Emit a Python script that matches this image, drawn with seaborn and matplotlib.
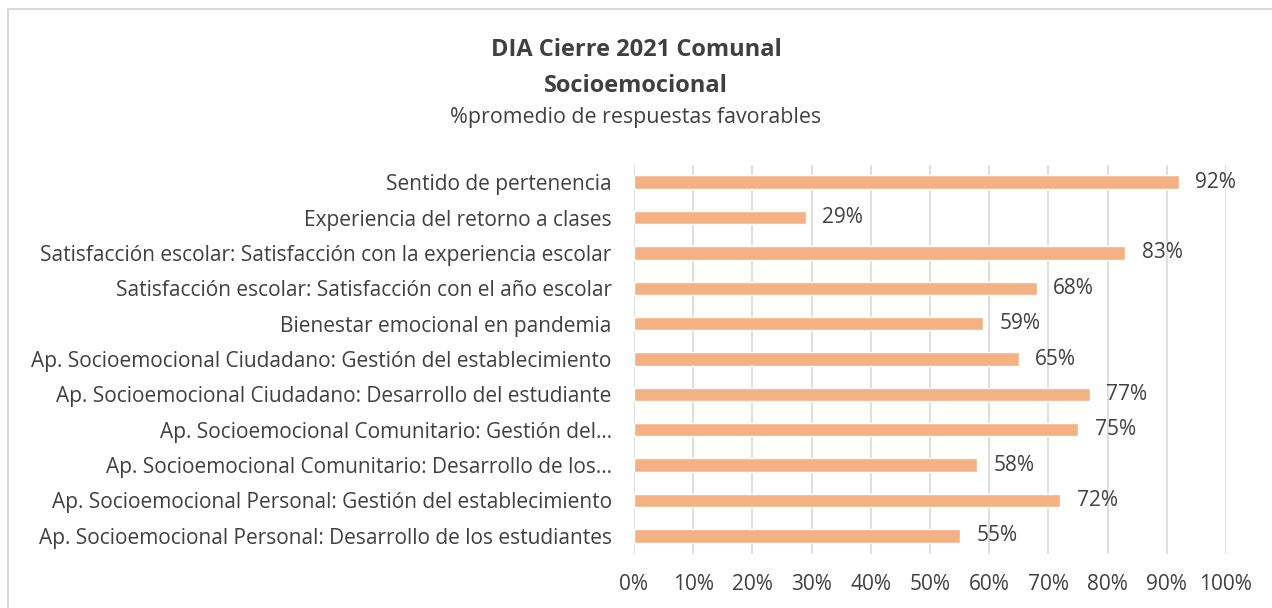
import matplotlib
matplotlib.use("Agg")
import matplotlib.pyplot as plt
import seaborn as sns
import pandas as pd
from matplotlib.patches import Rectangle

# datos
categorias = [
    "Sentido de pertenencia",
    "Experiencia del retorno a clases",
    "Satisfacción escolar: Satisfacción con la experiencia escolar",
    "Satisfacción escolar: Satisfacción con el año escolar",
    "Bienestar emocional en pandemia",
    "Ap. Socioemocional Ciudadano: Gestión del establecimiento",
    "Ap. Socioemocional Ciudadano: Desarrollo del estudiante",
    "Ap. Socioemocional Comunitario: Gestión del…",
    "Ap. Socioemocional Comunitario: Desarrollo de los…",
    "Ap. Socioemocional Personal: Gestión del establecimiento",
    "Ap. Socioemocional Personal: Desarrollo de los estudiantes",
]
valores = [92, 29, 83, 68, 59, 65, 77, 75, 58, 72, 55]
ticks = [0, 10, 20, 30, 40, 50, 60, 70, 80, 90, 100]

df = pd.DataFrame({"cat": categorias, "val": valores})

sns.set_style("white")
plt.rcParams["font.family"] = ["Open Sans", "DejaVu Sans"]
TXT = "#404040"
FS = 15

fig = plt.figure(figsize=(12.72, 6.08), dpi=100)
ax = fig.add_axes([0.4984, 0.0896, 0.4654, 0.6398])

sns.barplot(data=df, x="val", y="cat", orient="h", color="#F4B183",
            saturation=1, width=0.38, ax=ax, zorder=3)

for i, v in enumerate(valores):
    ax.text(v + 2.8, i, f"{v}%", va="center", ha="left", fontsize=FS, color=TXT)

ax.set_xlim(0, 100)
ax.set_ylim(10.5, -0.5)
ax.set_xticks(ticks)
ax.set_xticklabels([f"{t}%" for t in ticks])
ax.xaxis.grid(True, color="#D9D9D9", linewidth=1.2, zorder=0)
ax.set_axisbelow(True)
ax.set_xlabel("")
ax.set_ylabel("")
for s in ax.spines.values():
    s.set_visible(False)
ax.tick_params(axis="both", length=0, labelsize=FS, colors=TXT)
ax.tick_params(axis="y", pad=16)
ax.tick_params(axis="x", pad=15)

fig.text(0.5, 0.918, "DIA Cierre 2021 Comunal", ha="center", va="center",
         fontsize=17, fontweight="bold", color=TXT)
fig.text(0.5, 0.859, "Socioemocional", ha="center", va="center",
         fontsize=17, fontweight="bold", color=TXT)
fig.text(0.5, 0.807, "%promedio de respuestas favorables", ha="center", va="center",
         fontsize=15.4, color=TXT)

fig.patches.append(Rectangle((0.0063, -0.01), 1.0, 0.995, transform=fig.transFigure,
                             fill=False, edgecolor="#D9D9D9", linewidth=1.5))

fig.savefig("out.png", dpi=100, facecolor="white")
